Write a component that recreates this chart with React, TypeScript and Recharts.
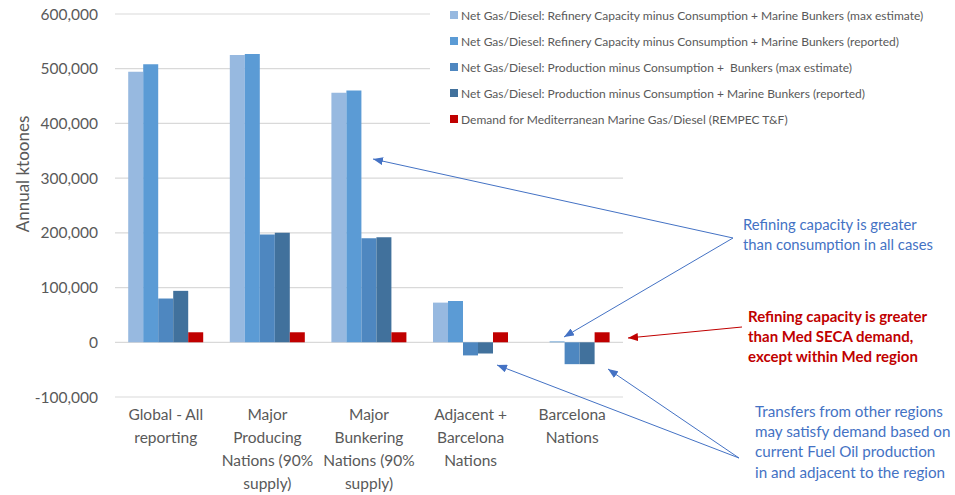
import { BarChart, Bar, XAxis, YAxis, CartesianGrid, Legend } from "recharts";

const categories = [
  "Global - All reporting",
  "Major Producing Nations (90% supply)",
  "Major Bunkering Nations (90% supply)",
  "Adjacent + Barcelona Nations",
  "Barcelona Nations",
];

// how each category label wraps under the axis
const categoryLines = [
  ["Global - All", "reporting"],
  ["Major", "Producing", "Nations (90%", "supply)"],
  ["Major", "Bunkering", "Nations (90%", "supply)"],
  ["Adjacent +", "Barcelona", "Nations"],
  ["Barcelona", "Nations"],
];

const refineryMaxEstimate = [494500, 525000, 456000, 72500, 0];
const refineryReported = [508000, 527000, 460000, 75500, 1500];
const productionMaxEstimate = [80000, 197000, 190000, -24000, -40000];
const productionReported = [94000, 200000, 192000, -20500, -40000];
const medDemand = [18300, 18300, 18300, 18300, 18300];

const yTicks = [-100000, 0, 100000, 200000, 300000, 400000, 500000, 600000];

const seriesNames = [
  "Net Gas/Diesel: Refinery Capacity minus Consumption + Marine Bunkers (max estimate)",
  "Net Gas/Diesel: Refinery Capacity minus Consumption + Marine Bunkers (reported)",
  "Net Gas/Diesel: Production minus Consumption +  Bunkers (max estimate)",
  "Net Gas/Diesel: Production minus Consumption + Marine Bunkers (reported)",
  "Demand for Mediterranean Marine Gas/Diesel (REMPEC T&F)",
];
const seriesColors = ["#97B9E0", "#5B9BD5", "#4E87C0", "#41719C", "#C00000"];
const seriesValues = [
  refineryMaxEstimate,
  refineryReported,
  productionMaxEstimate,
  productionReported,
  medDemand,
];

const data = categories.map((category, i) => {
  const row: Record<string, string | number> = { category };
  seriesValues.forEach((vals, s) => {
    row[`s${s}`] = vals[i];
  });
  return row;
});

const FONT = "Lato, 'Liberation Sans', sans-serif";
const GREY = "#595959";
const BLUE = "#4472C4";
const RED = "#C00000";

function CategoryTick(props: any) {
  const { x, y, payload } = props;
  const lines = categoryLines[categories.indexOf(payload.value)] || [];
  return (
    <text x={x} y={y} textAnchor="middle" fill={GREY} fontSize={15.5} fontFamily={FONT}>
      {lines.map((line, i) => (
        <tspan key={i} x={x} y={y + 15 + i * 23}>
          {line}
        </tspan>
      ))}
    </text>
  );
}

// keep the legend in series order (recharts sorts it by name otherwise)
const renderLegend = (props: any) => {
  const payload = [...(props.payload || [])].sort(
    (a: any, b: any) => seriesNames.indexOf(a.value) - seriesNames.indexOf(b.value)
  );
  return (
    <div style={{ fontFamily: FONT, fontSize: 12, color: GREY }}>
      {payload.map((entry: any, index: number) => (
        <div
          key={`legend-${index}`}
          style={{ display: "flex", alignItems: "center", height: 26, whiteSpace: "pre" }}
        >
          <div
            style={{
              width: 8,
              height: 8,
              backgroundColor: entry.color,
              marginRight: 3,
            }}
          />
          <span>{entry.value}</span>
        </div>
      ))}
    </div>
  );
};

export default function App() {
  return (
    <div style={{ position: "absolute", left: 0, top: 0, width: 955, height: 495, background: "#fff" }}>
      <BarChart
        width={955}
        height={495}
        data={data}
        margin={{ top: 14, right: 332, bottom: 1, left: 0 }}
        barCategoryGap="13%"
        barGap={0}
      >
        <CartesianGrid vertical={false} stroke="#D9D9D9" strokeWidth={1.2} />
        <XAxis
          dataKey="category"
          axisLine={false}
          tickLine={false}
          height={97}
          interval={0}
          tick={<CategoryTick />}
        />
        <YAxis
          width={115}
          domain={[-100000, 600000]}
          ticks={yTicks}
          axisLine={false}
          tickLine={false}
          tickMargin={11}
          tick={{ fill: GREY, fontSize: 15.5, fontFamily: FONT }}
          tickFormatter={(v: number) => v.toLocaleString("en-US")}
        />
        <Legend
          layout="horizontal"
          align="center"
          verticalAlign="middle"
          content={renderLegend}
          wrapperStyle={{
            position: "absolute",
            left: 430,
            top: 2,
            width: 520,
            height: 130,
            paddingLeft: 20,
            boxSizing: "border-box",
            background: "#fff",
          }}
        />
        {seriesNames.map((name, s) => (
          <Bar
            key={name}
            dataKey={`s${s}`}
            name={name}
            fill={seriesColors[s]}
            isAnimationActive={false}
          />
        ))}
      </BarChart>
      <svg
        width={955}
        height={495}
        style={{ position: "absolute", left: 0, top: 0, pointerEvents: "none" }}
        fontFamily={FONT}
      >
        <defs>
          <marker id="arrBlue" viewBox="0 0 10 8" refX={10} refY={4} markerWidth={10} markerHeight={8} markerUnits="userSpaceOnUse" orient="auto">
            <path d="M0,0 L10,4 L0,8 z" fill={BLUE} />
          </marker>
          <marker id="arrRed" viewBox="0 0 10 8" refX={10} refY={4} markerWidth={10} markerHeight={8} markerUnits="userSpaceOnUse" orient="auto">
            <path d="M0,0 L10,4 L0,8 z" fill={RED} />
          </marker>
        </defs>
        <text x={22} y={174} transform="rotate(-90 22 174)" textAnchor="middle" fill={GREY} fontSize={17} dominantBaseline="central">
          Annual ktoones
        </text>

        <line x1={733} y1={238} x2={373} y2={159} stroke={BLUE} strokeWidth={1} markerEnd="url(#arrBlue)" />
        <line x1={733} y1={238} x2={564} y2={337} stroke={BLUE} strokeWidth={1} markerEnd="url(#arrBlue)" />
        <line x1={742} y1={327} x2={628} y2={338} stroke={RED} strokeWidth={1} markerEnd="url(#arrRed)" />
        <line x1={739} y1={458} x2={497} y2={365} stroke={BLUE} strokeWidth={1} markerEnd="url(#arrBlue)" />
        <line x1={739} y1={458} x2={608} y2={369} stroke={BLUE} strokeWidth={1} markerEnd="url(#arrBlue)" />

        <text fill={BLUE} fontSize={14.8}>
          <tspan x={743} y={230}>Refining capacity is greater</tspan>
          <tspan x={743} y={250}>than consumption in all cases</tspan>
        </text>
        <text fill={RED} fontSize={15} fontWeight="bold">
          <tspan x={748} y={322}>Refining capacity is greater</tspan>
          <tspan x={748} y={342}>than Med SECA demand,</tspan>
          <tspan x={748} y={362}>except within Med region</tspan>
        </text>
        <text fill={BLUE} fontSize={15.2}>
          <tspan x={755} y={417}>Transfers from other regions</tspan>
          <tspan x={755} y={437}>may satisfy demand based on</tspan>
          <tspan x={755} y={457}>current Fuel Oil production</tspan>
          <tspan x={755} y={478}>in and adjacent to the region</tspan>
        </text>
      </svg>
    </div>
  );
}
